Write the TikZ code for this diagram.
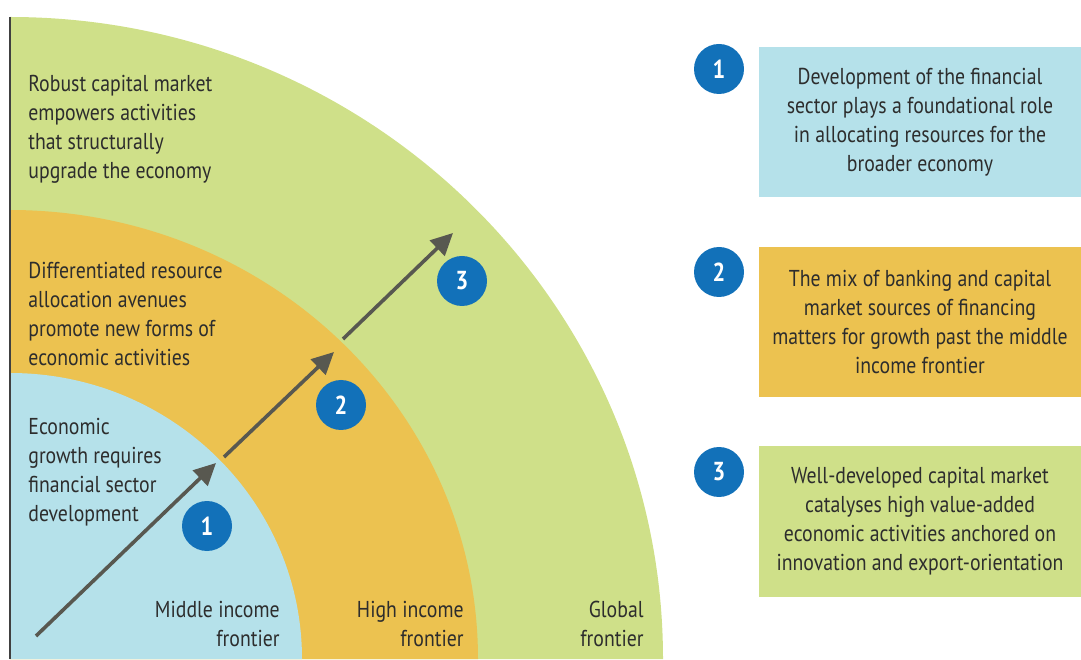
\documentclass[tikz,border=0pt]{standalone}
\usepackage{fontspec}
\setmainfont{PT Sans}[FakeStretch=0.86]
\usetikzlibrary{arrows.meta}

\definecolor{globalgreen}{RGB}{207,224,137}
\definecolor{highorange}{RGB}{236,194,80}
\definecolor{midblue}{RGB}{181,225,234}
\definecolor{dotblue}{RGB}{18,113,185}
\definecolor{arrowgrey}{RGB}{88,88,80}
\definecolor{inkgrey}{RGB}{45,45,45}

\begin{document}
\begin{tikzpicture}[
        x=0.5pt, y=0.5pt,
        font=\fontsize{11.5}{14.5}\selectfont,
        text=inkgrey,
        numdot/.style = {circle, fill=dotblue, text=white, minimum size=25pt,
                         inner sep=0pt, font=\fontsize{13}{15}\selectfont\bfseries},
        infobox/.style = {rectangle, minimum width=161pt, minimum height=75pt,
                          inner sep=0pt, align=center},
        ringtext/.style = {anchor=west, align=left, inner sep=0pt},
        frontier/.style = {anchor=east, align=right, inner sep=0pt},
        arrow/.style = {-{Triangle[length=11pt, width=10.5pt]}, line width=1.8pt,
                        draw=arrowgrey}
    ]
    \useasboundingbox (0,0) rectangle (1081,659);

    % --- Frontier rings, outermost first ---
    \coordinate (o) at (10,0);
    \fill[globalgreen] (o) -- ++(653,0)
        arc[start angle=0, end angle=90, x radius=653, y radius=642] -- cycle;
    \fill[highorange] (o) -- ++(468,0)
        arc[start angle=0, end angle=90, x radius=468, y radius=449] -- cycle;
    \fill[midblue] (o) -- ++(292,0)
        arc[start angle=0, end angle=90, x radius=292, y radius=286] -- cycle;
    \coordinate (otop) at (10,642);
    \draw[line width=1pt, draw=black!75] (o) -- (otop);

    % --- Ring descriptions ---
    \node[ringtext] (gtxt) at (28,530) {Robust capital market\\empowers activities\\that structurally\\upgrade the economy};
    \node[ringtext] (htxt) at (28,345) {Differentiated resource\\allocation avenues\\promote new forms of\\economic activities};
    \node[ringtext] (mtxt) at (28,187) {Economic\\growth requires\\financial sector\\development};

    \node[frontier] (mfr) at (280,35) {Middle income\\frontier};
    \node[frontier] (hfr) at (464,35) {High income\\frontier};
    \node[frontier] (gfr) at (644,35) {Global\\frontier};

    % --- Growth path across the rings ---
    \coordinate (a1s) at (36,23);
    \coordinate (a1e) at (216,196);
    \coordinate (a2s) at (224,202);
    \coordinate (a2e) at (334,307);
    \coordinate (a3s) at (343,320);
    \coordinate (a3e) at (453,426);
    \draw[arrow] (a1s) -- (a1e);
    \draw[arrow] (a2s) -- (a2e);
    \draw[arrow] (a3s) -- (a3e);

    \node[numdot] (s1) at (207,133) {1};
    \node[numdot] (s2) at (341,254) {2};
    \node[numdot] (s3) at (462,378) {3};

    % --- Legend boxes on the right ---
    \node[numdot] (k1) at (719,590) {1};
    \node[numdot] (k2) at (719,387) {2};
    \node[numdot] (k3) at (719,187) {3};

    \node[infobox, fill=midblue] (b1) at (920,537)
        {Development of the financial\\sector plays a foundational role\\in allocating resources for the\\broader economy};
    \node[infobox, fill=highorange] (b2) at (920,337)
        {The mix of banking and capital\\market sources of financing\\matters for growth past the middle\\income frontier};
    \node[infobox, fill=globalgreen] (b3) at (920,137.5)
        {Well-developed capital market\\catalyses high value-added\\economic activities anchored on\\innovation and export-orientation};
\end{tikzpicture}
\end{document}
